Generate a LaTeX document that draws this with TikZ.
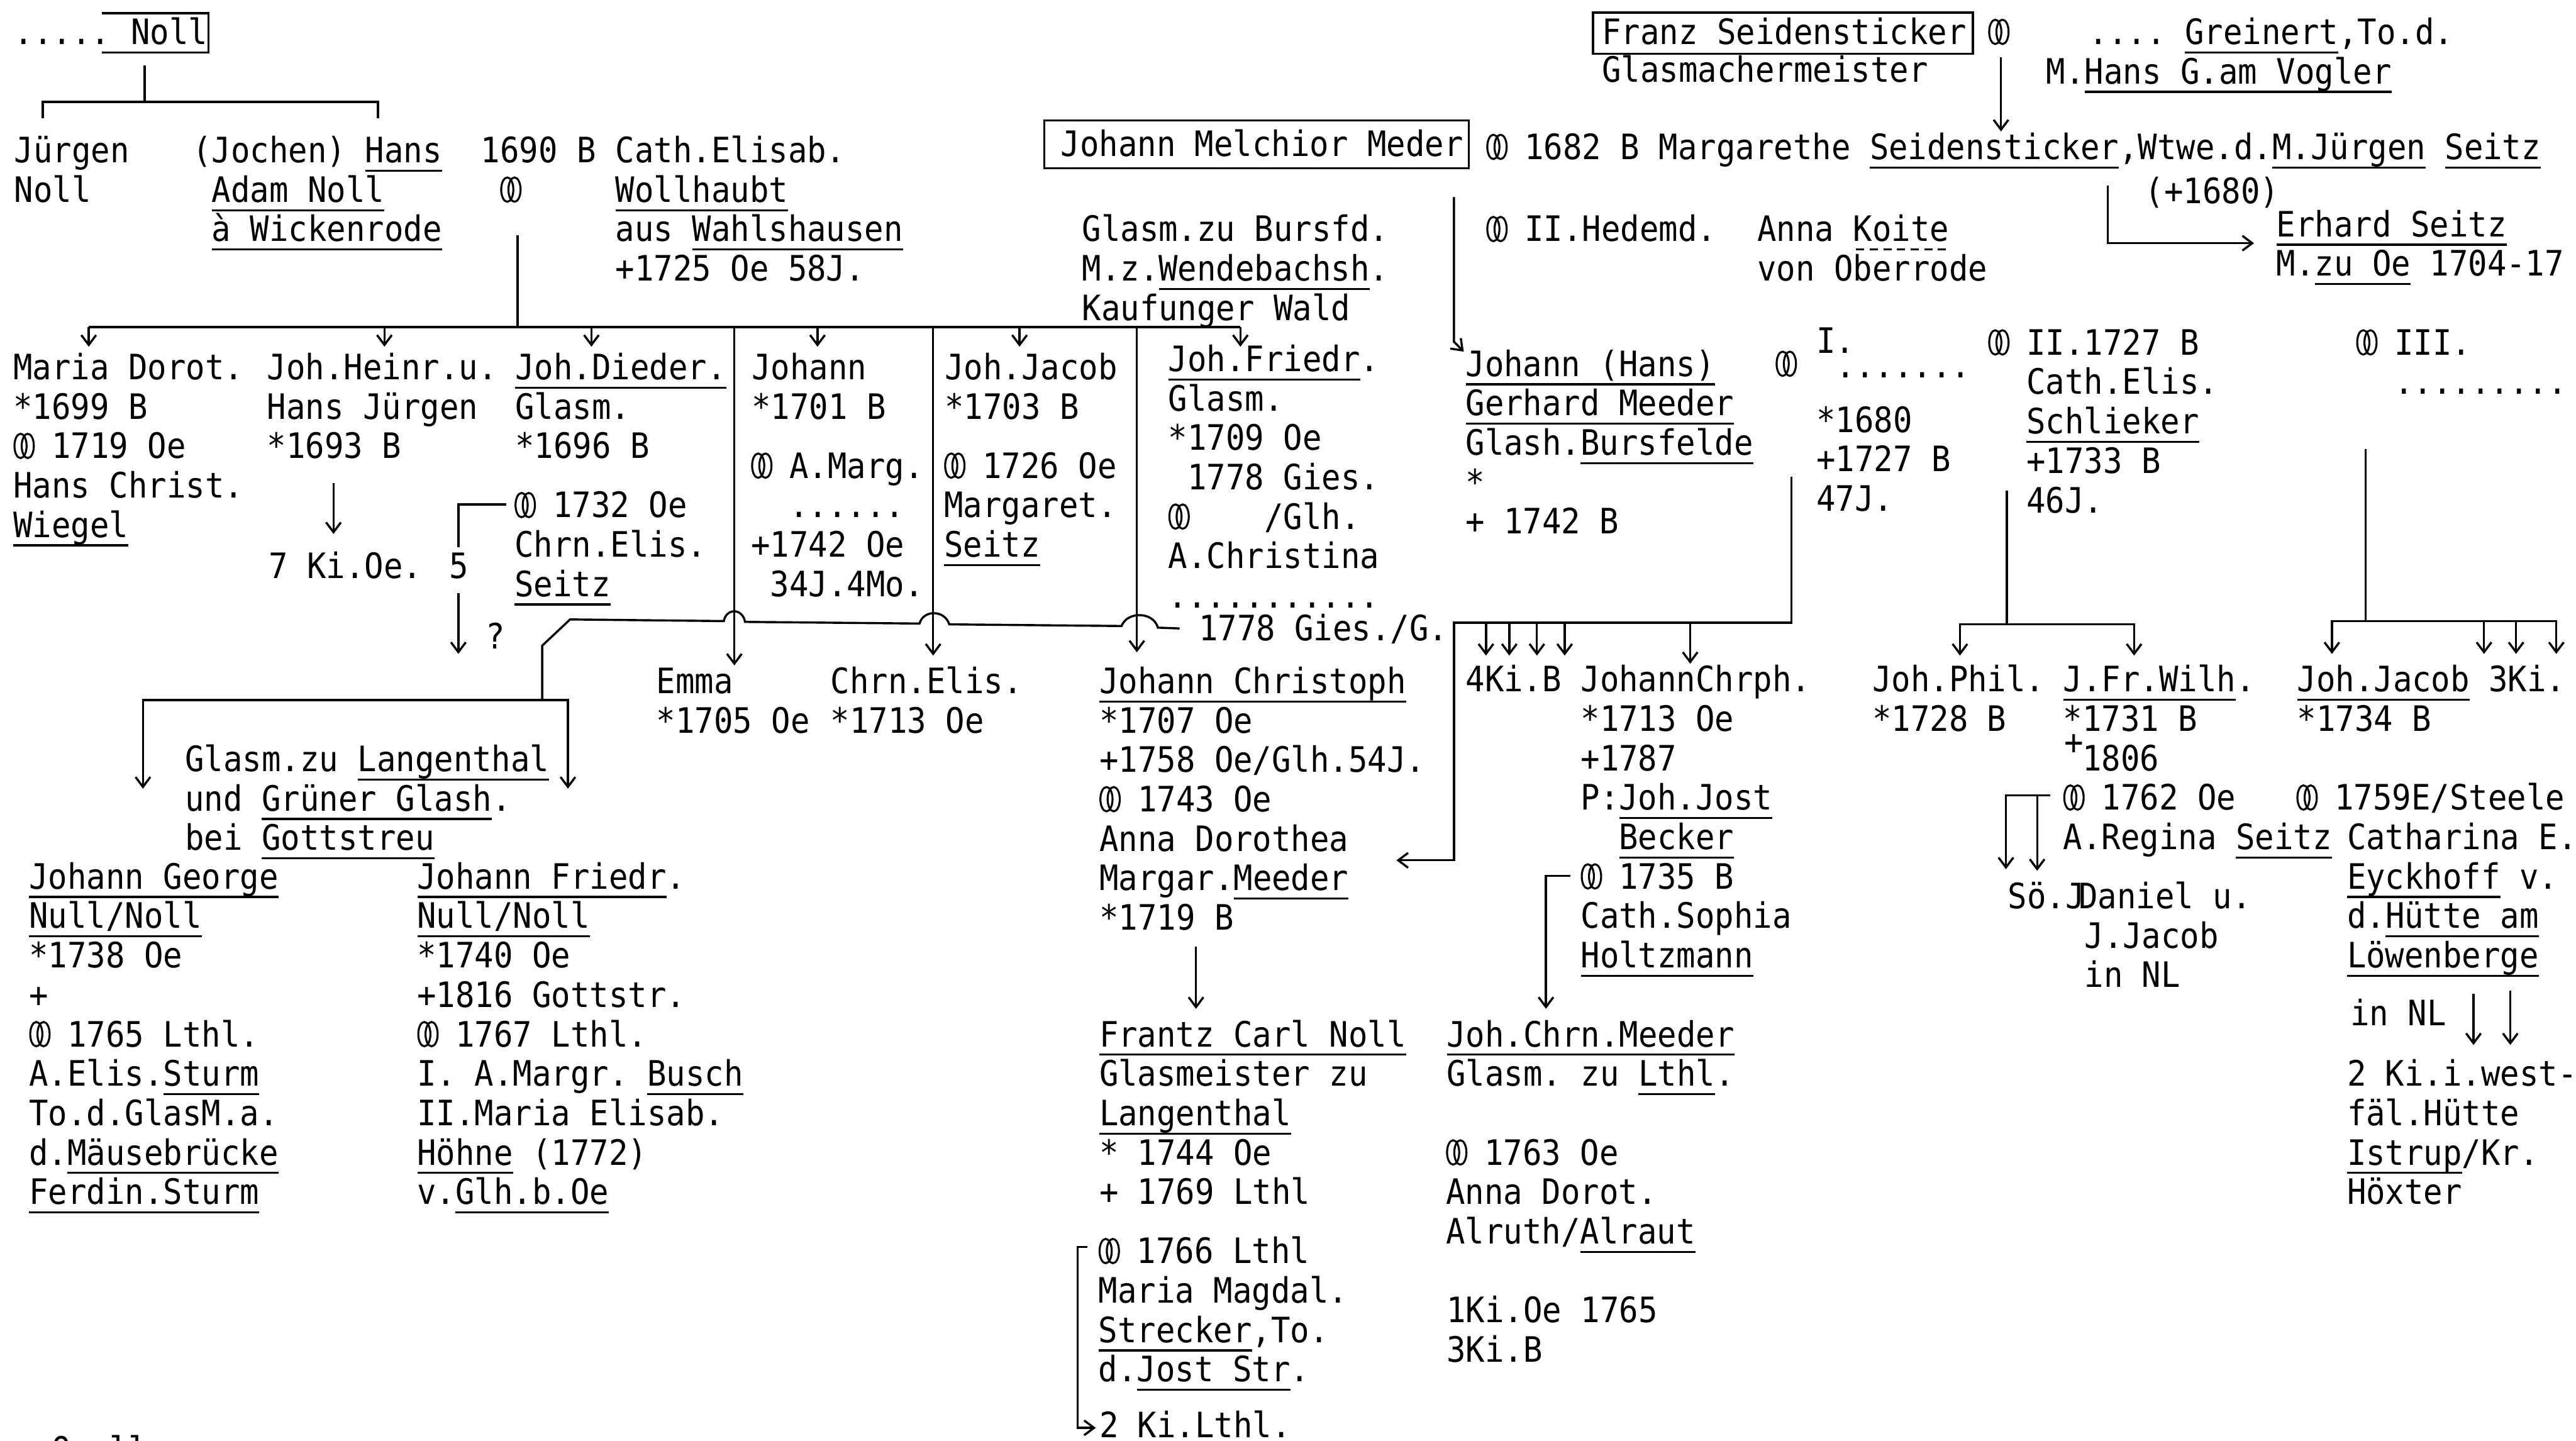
\documentclass[tikz,border=0pt]{standalone}
\usepackage{fontspec}
\usetikzlibrary{arrows.meta}
\newfontfamily\tw[FakeStretch=0.91]{DejaVu Sans Mono}
\newcommand\twf{\tw\fontsize{21.3pt}{24pt}\selectfont\lineskiplimit=-40pt
  \spaceskip=11.67pt\xspaceskip=11.67pt\relax}
\newcommand\mar{\makebox[11.67pt][l]{\tikz[baseline=0pt,x=1pt,y=1pt,line width=1.2pt]{%
  \draw (4.2,7.6) ellipse (3.7 and 7.4); \draw (8.6,7.6) ellipse (3.7 and 7.4);}}}
\newsavebox\unbox
\newcommand\un[1]{\leavevmode\sbox\unbox{#1}\rlap{\rule[-5.5pt]{\wd\unbox}{1.2pt}}\usebox{\unbox}}
\newcommand\dun[1]{\leavevmode\sbox\unbox{#1}\rlap{\raisebox{-5.5pt}{\hbox to\wd\unbox{\xleaders\hbox to 8pt{\hfil\rule{5pt}{1.2pt}\hfil}\hfill}}}\usebox{\unbox}}

\begin{document}
\begin{tikzpicture}[
  x=1pt, y=-1pt, line width=1.3pt,
  blk/.style={anchor=base west, align=flush left, text width=700pt, inner sep=0pt, font=\twf},
  frame/.style={line width=1.3pt},
  arr/.style={-{Straight Barb[length=6pt,width=9pt]}}
]
  \fill[white] (0,0) rectangle (1568,877);
  \useasboundingbox (0,0) rectangle (1568,877);

  % top generation
  \node[blk] (dotsN) at (8,27) {.....};
  \node[blk] (nollN) at (79,27) {Noll};
  \draw[frame] (62,8) -- (127,8) -- (127,32) -- (62,32);

  \node[blk] (juergen) at (8,99) {Jürgen\\Noll};
  \node[blk] (hansadam) at (116.6,99) {(Jochen) \un{Hans}\\\phantom{x}\un{Adam Noll}\\\phantom{x}\un{à Wickenrode}};
  \node[blk] (m1690) at (292.6,99) {1690 B\\\phantom{x}\mar};
  \node[blk] (cathelisab) at (374,99) {Cath.Elisab.\\\un{Wollhaubt}\\aus \un{Wahlshausen}\\+1725 Oe 58J.};

  \node[blk] (bursfd) at (658,147) {Glasm.zu Bursfd.\\M.z.\un{Wendebachsh}.\\Kaufunger Wald};
  \node[blk] (meder) at (645,95) {Johann Melchior Meder};
  \draw[frame] (635.6,73.4) rectangle (894,102.4);
  \node[blk] (m1682) at (904.5,97) {\mar\ 1682 B Margarethe \un{Seidensticker},Wtwe.d.\un{M.Jürgen} \un{Seitz}};
  \node[blk] (d1680) at (1305,124) {(+1680)};
  \node[blk] (franz) at (974.5,27) {Franz Seidensticker};
  \draw[frame] (969.7,7.7) rectangle (1200.8,32.8);
  \node[blk] (glmeister) at (974.5,50) {Glasmachermeister};
  \node[blk] (marF) at (1210,27) {\mar};
  \node[blk] (greinert) at (1271,27) {....\ \un{Greinert},To.d.};
  \node[blk] (vogler) at (1245,51) {M.\un{Hans G.am Vogler}};
  \node[blk] (erhard) at (1385,144) {\un{Erhard Seitz}\\M.\un{zu Oe} 1704-17};
  \node[blk] (hedemd) at (904.5,147) {\mar\ II.Hedemd.};
  \node[blk] (koite) at (1069,147) {Anna \dun{Koite}\\von Oberrode};

  % children of Hans Adam Noll
  \node[blk] (maria) at (8,231) {Maria Dorot.\\{}*1699 B\\\mar\ 1719 Oe\\Hans Christ.\\\un{Wiegel}};
  \node[blk] (heinr) at (162,231) {Joh.Heinr.u.\\Hans Jürgen\\{}*1693 B};
  \node[blk] (ki7) at (163,352) {7 Ki.Oe.};
  \node[blk] (five) at (273,352) {5};
  \node[blk] (qmark) at (295,395) {?};
  \node[blk] (dieder) at (313,231) {\un{Joh.Dieder.}\\Glasm.\\{}*1696 B};
  \node[blk] (m1732) at (313,315) {\mar\ 1732 Oe\\Chrn.Elis.\\\un{Seitz}};
  \node[blk] (johann) at (457,231) {Johann\\{}*1701 B};
  \node[blk] (amarg) at (457,291) {\mar\ A.Marg.\\\phantom{xx}......\\+1742 Oe\\\phantom{x}34J.4Mo.};
  \node[blk] (jacob) at (574.5,231) {Joh.Jacob\\{}*1703 B};
  \node[blk] (m1726) at (574.5,291) {\mar\ 1726 Oe\\Margaret.\\\un{Seitz}};
  \node[blk] (friedr) at (711,226) {\un{Joh.Friedr}.\\Glasm.\\{}*1709 Oe\\\phantom{x}1778 Gies.\\\mar\phantom{xxxx}/Glh.\\A.Christina\\...........};
  \node[blk] (gies) at (729,390) {1778 Gies./G.};

  % Meeder line
  \node[blk] (jhans) at (891.5,229) {\un{Johann (Hans)}\\\un{Gerhard Meeder}\\Glash.\un{Bursfelde}\\{}*\\+ 1742 B};
  \node[blk] (marI) at (1080.6,229) {\mar};
  \node[blk] (supI) at (1105,215) {I.};
  \node[blk] (dotsI) at (1117,230) {.......};
  \node[blk] (b1680) at (1105,263) {*1680\\+1727 B\\47J.};
  \node[blk] (schlieker) at (1210,216) {\mar\ II.1727 B\\\phantom{xx}Cath.Elis.\\\phantom{xx}\un{Schlieker}\\\phantom{xx}+1733 B\\\phantom{xx}46J.};
  \node[blk] (marIII) at (1434,216) {\mar\ III.\\\phantom{xx}.........};

  % grandchildren
  \node[blk] (emma) at (399,422) {Emma\\{}*1705 Oe};
  \node[blk] (chrnelis) at (505,422) {Chrn.Elis.\\{}*1713 Oe};
  \node[blk] (christoph) at (669,422) {\un{Johann Christoph}\\{}*1707 Oe\\+1758 Oe/Glh.54J.\\\mar\ 1743 Oe\\Anna Dorothea\\Margar.\un{Meeder}\\{}*1719 B};
  \node[blk] (ki4) at (891.5,421) {4Ki.B};
  \node[blk] (chrph) at (962,421) {JohannChrph.\\{}*1713 Oe\\+1787\\P:\un{Joh.Jost}\\\phantom{xx}\un{Becker}\\\mar\ 1735 B\\Cath.Sophia\\\un{Holtzmann}};
  \node[blk] (phil) at (1139,421) {Joh.Phil.\\{}*1728 B};
  \node[blk] (wilh) at (1255.7,421) {\un{J.Fr.Wilh}.\\{}*1731 B\\\phantom{x}1806\\\mar\ 1762 Oe\\A.Regina \un{Seitz}};
  \node[blk] (wilhplus) at (1256,459) {+};
  \node[blk] (soehne) at (1221.5,553) {Sö.J\kern-3.5pt Daniel u.\\\phantom{xxxx}J.Jacob\\\phantom{xxxx}in NL};
  \node[blk] (jjacob) at (1397.6,421) {\un{Joh.Jacob} 3Ki.\\{}*1734 B};
  \node[blk] (m1759) at (1397.6,493) {\mar\ 1759E/Steele};
  \node[blk] (catharina) at (1428,517) {Catharina E.\\\un{Eyckhoff} v.\\d.\un{Hütte am}\\\un{Löwenberge}};
  \node[blk] (innl) at (1430,624) {in NL};
  \node[blk] (westfael) at (1428,661) {2 Ki.i.west-\\fäl.Hütte\\\un{Istrup}/Kr.\\Höxter};

  % Langenthal
  \node[blk] (langenthal) at (112,469.5) {Glasm.zu \un{Langenthal}\\und \un{Grüner Glash}.\\bei \un{Gottstreu}};
  \node[blk] (george) at (17.6,541) {\un{Johann George}\\\un{Null/Noll}\\{}*1738 Oe\\+\\\mar\ 1765 Lthl.\\A.Elis.\un{Sturm}\\To.d.GlasM.a.\\d.\un{Mäusebrücke}\\\un{Ferdin.Sturm}};
  \node[blk] (jfriedr) at (253.8,541) {\un{Johann Friedr}.\\\un{Null/Noll}\\{}*1740 Oe\\+1816 Gottstr.\\\mar\ 1767 Lthl.\\I. A.Margr. \un{Busch}\\II.Maria Elisab.\\\un{Höhne} (1772)\\v.\un{Glh.b.Oe}};
  \node[blk] (quellen) at (31,890) {Quellen:};

  \node[blk] (frantz) at (668.5,637) {\un{Frantz Carl Noll}\\Glasmeister zu\\\un{Langenthal}\\{}* 1744 Oe\\+ 1769 Lthl};
  \node[blk] (m1766) at (668.5,769) {\mar\ 1766 Lthl\\Maria Magdal.\\\un{Strecker},To.\\d.\un{Jost Str}.};
  \node[blk] (ki2lthl) at (668.5,875) {2 Ki.Lthl.};
  \node[blk] (jchrn) at (880,637) {\un{Joh.Chrn.Meeder}\\Glasm. zu \un{Lthl}.};
  \node[blk] (m1763) at (880,709) {\mar\ 1763 Oe\\Anna Dorot.\\Alruth/\un{Alraut}};
  \node[blk] (ki1) at (880,805) {1Ki.Oe 1765\\3Ki.B};

  % connectors: Noll
  \coordinate (nollTop) at (88,40);
  \coordinate (nollBar) at (88,62);
  \coordinate (juergenT) at (26,72);
  \coordinate (hansT) at (230,72);
  \draw (nollTop) -- (nollBar);
  \draw (juergenT) |- (nollBar) -| (hansT);

  % children bar
  \coordinate (m1690B) at (315,143);
  \coordinate (kidsW) at (54,199);
  \coordinate (kidsE) at (755,199);
  \draw (m1690B) -- (m1690B |- kidsW);
  \draw (kidsW) -- (kidsE);
  \foreach \n/\x in {kMaria/54, kHeinr/234, kDieder/360, kJohann/497.6, kJacob/620.6, kFriedr/755}
    \coordinate (\n) at (\x,211);
  \foreach \n in {kMaria, kHeinr, kDieder, kJohann, kJacob, kFriedr}
    \draw[arr] (kidsW -| \n) -- (\n);
  \coordinate (kEmma) at (447,405);
  \coordinate (kChrn) at (568,399);
  \coordinate (kChrist) at (692,397);
  \foreach \n in {kEmma, kChrn, kChrist}
    \draw[arr] (kidsW -| \n) -- (\n);

  % Gies. to Langenthal
  \coordinate (giesW) at (718,382.5);
  \coordinate (lgBend) at (347,377);
  \coordinate (lgDrop) at (330,393);
  \coordinate (lgBar) at (330,426);
  \coordinate (lgW) at (87,480);
  \coordinate (lgE) at (345.7,480);
  \draw (giesW) -- (704.8,382) .. controls (702,372) and (686,372) .. (682.7,381)
    -- (577.8,380) .. controls (575,371) and (562,371) .. (559.7,379.5)
    -- (453.5,378.5) .. controls (452,370) and (442,370) .. (440.6,378)
    -- (lgBend) -- (lgDrop) -- (lgBar);
  \draw[arr] (lgBar) -| (lgW);
  \draw[arr] (lgBar) -| (lgE);

  \coordinate (heinrA) at (203,294);
  \coordinate (heinrB) at (203,325);
  \draw[arr] (heinrA) -- (heinrB);
  \coordinate (fiveT) at (279,333);
  \coordinate (m1732W) at (308,307);
  \draw (fiveT) |- (m1732W);
  \coordinate (fiveB) at (279,361);
  \coordinate (fiveQ) at (279,398);
  \draw[arr] (fiveB) -- (fiveQ);

  % Meeder / Seidensticker
  \coordinate (mederB) at (885,120);
  \coordinate (mederK) at (885,208);
  \coordinate (jhansT) at (891,214);
  \draw[arr] (mederB) -- (mederK) -- (jhansT);
  \coordinate (marFB) at (1218,35);
  \coordinate (marFT) at (1218,80);
  \draw[arr] (marFB) -- (marFT);
  \coordinate (seitzB) at (1283,113);
  \coordinate (erhardW) at (1372,148);
  \draw[arr] (seitzB) |- (erhardW);

  % marriage I
  \coordinate (marIB) at (1090.5,290);
  \coordinate (marIBar) at (1090.5,379);
  \coordinate (mIW) at (885,379);
  \coordinate (annaE) at (850,523.6);
  \draw[arr] (marIB) -- (marIBar) -- (mIW) |- (annaE);
  \foreach \n/\x in {kiA/904.5, kiB/918.7, kiC/935.5, kiD/952.4}
    \coordinate (\n) at (\x,399);
  \coordinate (kChrph) at (1028.8,404);
  \foreach \n in {kiA, kiB, kiC, kiD, kChrph}
    \draw[arr] (marIBar -| \n) -- (\n);

  % marriage II
  \coordinate (schlB) at (1221.5,298.5);
  \coordinate (schlBar) at (1221.5,380);
  \coordinate (kPhil) at (1193,399);
  \coordinate (kWilh) at (1299,399);
  \draw (schlB) -- (schlBar);
  \draw[arr] (schlBar) -| (kPhil);
  \draw[arr] (schlBar) -| (kWilh);

  % marriage III
  \coordinate (m3B) at (1440,273.4);
  \coordinate (m3Bar) at (1440,378);
  \coordinate (kJac) at (1419.4,398);
  \coordinate (k3a) at (1512,398);
  \coordinate (k3b) at (1531.5,398);
  \coordinate (k3c) at (1556,398);
  \draw (m3B) -- (m3Bar);
  \draw[arr] (m3Bar) -| (kJac);
  \draw[arr] (m3Bar) -| (k3c);
  \foreach \n in {k3a, k3b}
    \draw[arr] (m3Bar -| \n) -- (\n);

  % lower generation
  \coordinate (chrB) at (728,576);
  \coordinate (frantzT) at (728,614);
  \draw[arr] (chrB) -- (frantzT);
  \coordinate (m1735W) at (956,533);
  \coordinate (jchrnT) at (941,614);
  \draw[arr] (m1735W) -| (jchrnT);
  \coordinate (m1762W) at (1248,484);
  \coordinate (soeA) at (1221,529);
  \coordinate (soeB) at (1240,530);
  \draw[arr] (m1762W) -| (soeA);
  \draw[arr] (m1762W -| soeB) -- (soeB);
  \coordinate (nlA) at (1505.6,605);
  \coordinate (nlAT) at (1505.6,636);
  \coordinate (nlB) at (1528,603);
  \coordinate (nlBT) at (1528,636);
  \draw[arr] (nlA) -- (nlAT);
  \draw[arr] (nlB) -- (nlBT);
  \coordinate (m1766W) at (662,759);
  \coordinate (m1766C) at (656,759);
  \coordinate (kiLthl) at (667,869);
  \draw[arr] (m1766W) -- (m1766C) |- (kiLthl);
\end{tikzpicture}
\end{document}
